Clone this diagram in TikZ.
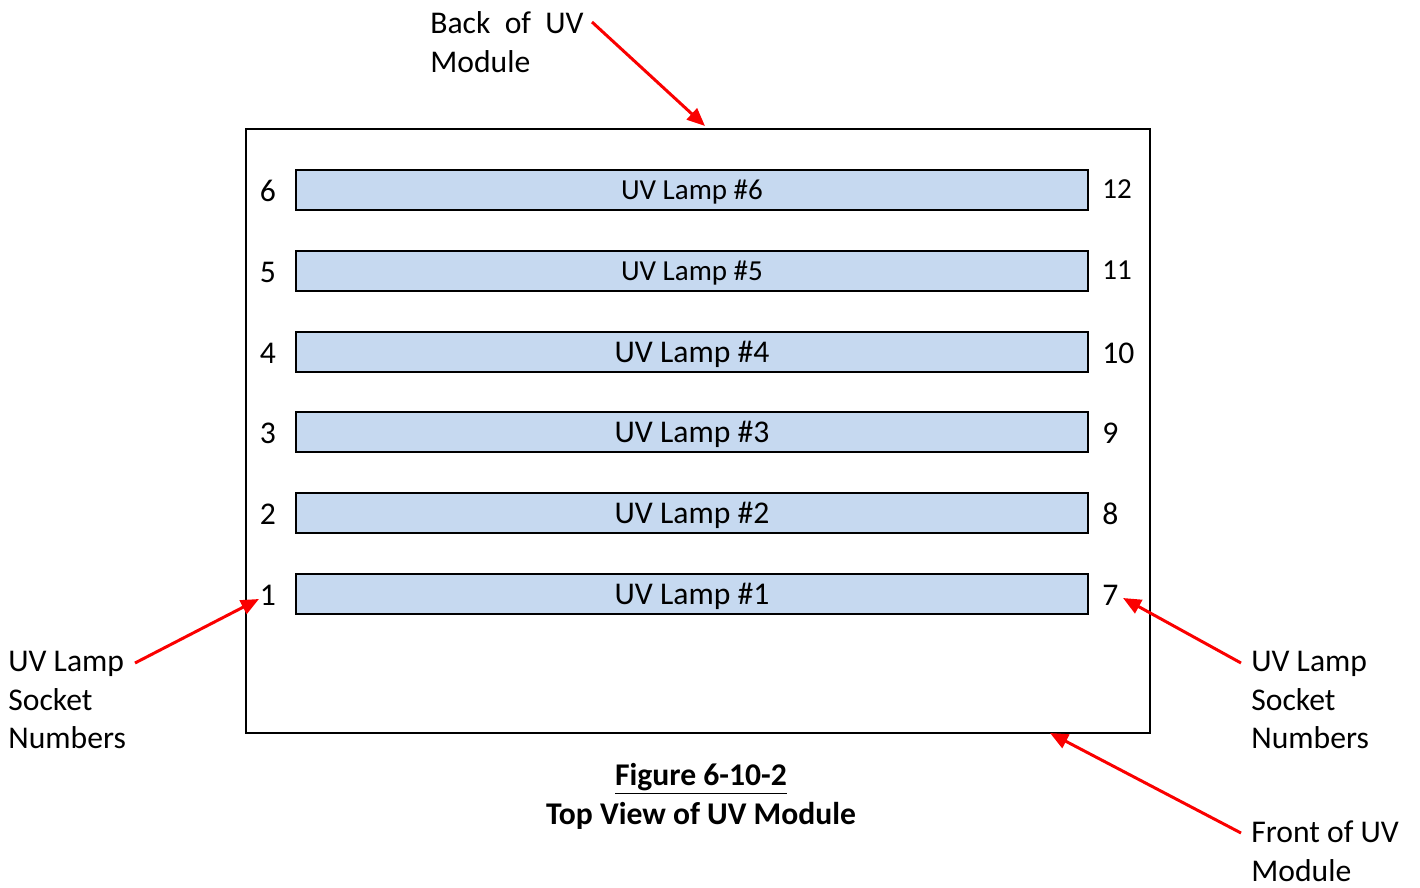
\documentclass[tikz,border=0pt]{standalone}
\usepackage{fontspec}
\setmainfont{Carlito}
\usetikzlibrary{arrows.meta}
\definecolor{lampblue}{RGB}{198,217,240}
\definecolor{arrowred}{RGB}{250,0,0}
\begin{document}
\begin{tikzpicture}[x=0.02cm,y=-0.02cm,
    lamp/.style={draw,line width=1.1pt,fill=lampblue,minimum width=15.84cm,minimum height=0.8cm,inner sep=0pt,text depth=0pt,font=\fontsize{18}{22}\selectfont},
    smalllamp/.style={lamp,font=\fontsize{16.5}{20}\selectfont},
    socket/.style={inner sep=0pt,font=\fontsize{18}{22}\selectfont},
    note/.style={inner sep=0pt,align=left,anchor=west,font=\fontsize{18}{22.1}\selectfont},
    pointer/.style={draw=arrowred,line width=1.7pt,-{Triangle[length=0.36cm,width=0.3cm]}}]
                \useasboundingbox (0,0) rectangle (1420,888);
                \draw[line width=1.1pt] (246,129) rectangle (1150,733);
                \node[smalllamp] (L6) at (692,190) {UV Lamp \#6};
                \node[smalllamp] (L5) at (692,271) {UV Lamp \#5};
                \node[lamp] (L4) at (692,352) {UV Lamp \#4};
                \node[lamp] (L3) at (692,432) {UV Lamp \#3};
                \node[lamp] (L2) at (692,513) {UV Lamp \#2};
                \node[lamp] (L1) at (692,594) {UV Lamp \#1};
                \node[socket] (S6) at (268,191) {6};
                \node[socket] (S5) at (268,272) {5};
                \node[socket] (S4) at (268,353) {4};
                \node[socket] (S3) at (268,433) {3};
                \node[socket] (S2) at (268,514) {2};
                \node[socket] (S1) at (268,595) {1};
                \node[socket,anchor=west,font=\fontsize{16.5}{20}\selectfont] (S12) at (1102,189) {12};
                \node[socket,anchor=west,font=\fontsize{16.5}{20}\selectfont] (S11) at (1102,270) {11};
                \node[socket,anchor=west] (S10) at (1102,353) {10};
                \node[socket,anchor=west] (S9) at (1102,433) {9};
                \node[socket,anchor=west] (S8) at (1102,514) {8};
                \node[socket,anchor=west] (S7) at (1102,595) {7};
                \node[note] (back) at (430,42) {Back~~of~~UV\\Module};
                \node[note] (leftsock) at (8,700) {UV Lamp\\Socket\\Numbers};
                \node[note] (rightsock) at (1251,700) {UV Lamp\\Socket\\Numbers};
                \node[note] (front) at (1251,851) {Front of UV\\Module};
                \node[inner sep=0pt,align=center,font=\fontsize{18}{22.1}\selectfont\bfseries] (caption) at (701,796) {\underline{Figure 6-10-2}\\Top View of UV Module};
                \coordinate (backtail) at (592,22);
                \coordinate (backtip) at (705,126);
                \coordinate (lefttail) at (135,663);
                \coordinate (lefttip) at (259,599);
                \coordinate (righttail) at (1241,663);
                \coordinate (righttip) at (1123,598);
                \coordinate (fronttail) at (1241,833);
                \coordinate (fronttip) at (1050,733);
                \draw[pointer] (backtail) -- (backtip);
                \draw[pointer] (lefttail) -- (lefttip);
                \draw[pointer] (righttail) -- (righttip);
                \draw[pointer] (fronttail) -- (fronttip);
            \end{tikzpicture}
\end{document}
